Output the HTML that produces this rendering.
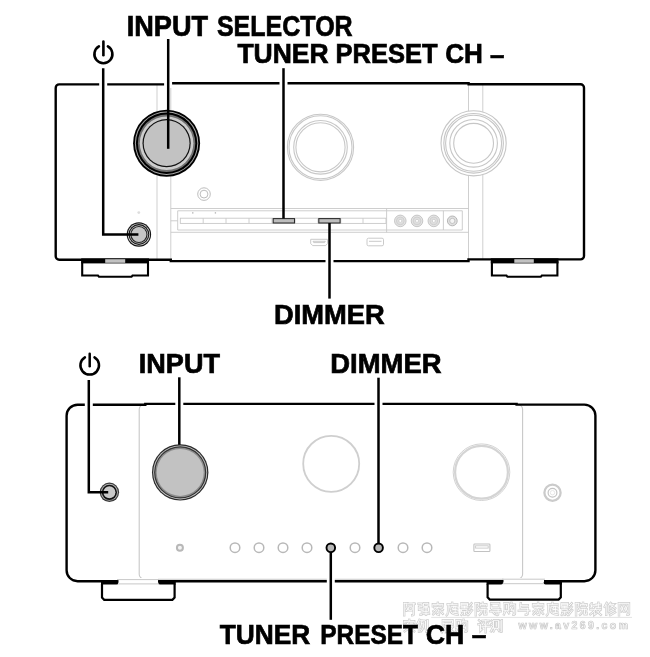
<!DOCTYPE html>
<html><head><meta charset="utf-8">
<style>
html,body{margin:0;padding:0;background:#fff;}
svg{display:block;will-change:transform;}
text{font-family:"Liberation Sans",sans-serif;font-weight:bold;fill:#000;stroke:#000;stroke-width:0.7;}
</style></head>
<body>
<svg width="650" height="657" viewBox="0 0 650 657">
<rect width="650" height="657" fill="#fff"/>

<!-- ============ TOP DEVICE ============ -->
<g id="top">
  <!-- light panel lines -->
  <g stroke="#cfcfcf" stroke-width="1" fill="none">
    <line x1="157" y1="85" x2="157" y2="259"/>
    <line x1="170.8" y1="85" x2="170.8" y2="260"/>
    <line x1="468.5" y1="85" x2="468.5" y2="260"/>
    <line x1="482.8" y1="85" x2="482.8" y2="259"/>
  </g>
  <!-- outline -->
  <path d="M59.2,84.4 H170.8 V83.2 H468.6 V84.3 H580.5 A3.5,3.5 0 0 1 584,87.8 V255.9 A3.5,3.5 0 0 1 580.5,259.4 H468.5 V261.1 H170.8 V259.8 H59.2 A3.5,3.5 0 0 1 55.7,256.3 V87.9 A3.5,3.5 0 0 1 59.2,84.4 Z" fill="none" stroke="#000" stroke-width="2.4"/>
  <!-- display panel -->
  <g stroke="#c8c8c8" stroke-width="0.9" fill="none">
    <line x1="170.8" y1="208.5" x2="468.5" y2="208.5"/>
    <line x1="177.7" y1="210.8" x2="462.3" y2="210.8"/>
    <line x1="177.7" y1="230" x2="462.3" y2="230"/>
    <line x1="170.8" y1="232.3" x2="468.5" y2="232.3"/>
    <line x1="177.7" y1="210.8" x2="177.7" y2="230"/>
    <line x1="462.3" y1="210.8" x2="462.3" y2="230"/>
    <line x1="170.8" y1="220.8" x2="177.7" y2="220.8"/>
    <line x1="386.6" y1="208.5" x2="386.6" y2="232.3"/>
    <line x1="443.4" y1="210.8" x2="443.4" y2="230"/>
    <rect x="180.3" y="218.2" width="205.7" height="5.2"/>
    <line x1="203.2" y1="218.2" x2="203.2" y2="223.4"/>
    <line x1="226" y1="218.2" x2="226" y2="223.4"/>
    <line x1="249" y1="218.2" x2="249" y2="223.4"/>
    <line x1="272" y1="218.2" x2="272" y2="223.4"/>
    <line x1="295" y1="218.2" x2="295" y2="223.4"/>
    <line x1="318" y1="218.2" x2="318" y2="223.4"/>
    <line x1="340.8" y1="218.2" x2="340.8" y2="223.4"/>
    <line x1="363" y1="218.2" x2="363" y2="223.4"/>
  </g>
  <g fill="#bbb">
    <circle cx="192.8" cy="212.9" r="0.8"/>
    <circle cx="215.4" cy="212.9" r="0.8"/>
    <circle cx="138.8" cy="212.6" r="1.4" fill="#ddd"/>
  </g>
  <!-- highlighted buttons -->
  <rect x="273.2" y="218.6" width="21.3" height="4.4" fill="#bdbdbd" stroke="#2a2a2a" stroke-width="1.05"/>
  <rect x="318.8" y="218.6" width="21.3" height="4.4" fill="#bdbdbd" stroke="#2a2a2a" stroke-width="1.05"/>
  <!-- RCA rings -->
  <g>
    <circle cx="400.3" cy="220.9" r="5.8" fill="#e4e4e4" stroke="#bdbdbd" stroke-width="0.8"/>
    <circle cx="400.3" cy="220.9" r="3.9" fill="#dedede" stroke="#c8c8c8" stroke-width="0.7"/>
    <circle cx="400.3" cy="220.9" r="1.5" fill="#fff" stroke="#bbb" stroke-width="0.5"/>
    <circle cx="417" cy="220.9" r="5.8" fill="#e4e4e4" stroke="#bdbdbd" stroke-width="0.8"/>
    <circle cx="417" cy="220.9" r="3.9" fill="#dedede" stroke="#c8c8c8" stroke-width="0.7"/>
    <circle cx="417" cy="220.9" r="1.5" fill="#fff" stroke="#bbb" stroke-width="0.5"/>
    <circle cx="433.8" cy="220.9" r="5.8" fill="#e4e4e4" stroke="#bdbdbd" stroke-width="0.8"/>
    <circle cx="433.8" cy="220.9" r="3.9" fill="#dedede" stroke="#c8c8c8" stroke-width="0.7"/>
    <circle cx="433.8" cy="220.9" r="1.5" fill="#fff" stroke="#bbb" stroke-width="0.5"/>
    <circle cx="452.3" cy="220.9" r="4.9" fill="#e0e0e0" stroke="#b0b0b0" stroke-width="0.9"/>
    <circle cx="452.3" cy="220.9" r="2.6" fill="#f4f4f4" stroke="#b8b8b8" stroke-width="0.8"/>
  </g>
  <!-- ports -->
  <g fill="none" stroke="#c4c4c4" stroke-width="0.9">
    <path d="M310.7,239.3 H327.6 V243.5 L325.6,245.6 H312.7 L310.7,243.5 Z"/>
    <path d="M313,241.3 H325.3 L324.6,242.6 H313.7 Z"/>
    <rect x="367" y="238.2" width="16.5" height="7.6" rx="1.5"/>
    <line x1="369" y1="241.3" x2="381.5" y2="241.3"/>
  </g>
  <!-- small jack -->
  <circle cx="204" cy="194.1" r="6.3" fill="none" stroke="#bdbdbd" stroke-width="1"/>
  <circle cx="204" cy="194.1" r="3.9" fill="none" stroke="#bdbdbd" stroke-width="1"/>

  <!-- knob 2 (light) -->
  <g fill="#fff" stroke="#c8c8c8" stroke-width="1.1">
    <circle cx="320.5" cy="147.3" r="33.1"/>
    <circle cx="320.5" cy="147.3" r="31.5"/>
    <circle cx="320.5" cy="147.3" r="26.8"/>
    <circle cx="320.5" cy="147.3" r="24.6"/>
  </g>
  <!-- knob 3 (light) -->
  <g fill="#fff" stroke="#c6c6c6" stroke-width="1.1">
    <circle cx="473.6" cy="143.3" r="32.6"/>
    <circle cx="473.6" cy="143.3" r="29.8"/>
    <circle cx="473.6" cy="143.3" r="28.0"/>
    <circle cx="473.6" cy="143.3" r="23.8"/>
    <circle cx="473.6" cy="143.3" r="19.9"/>
  </g>
  <!-- knob 1 (INPUT SELECTOR) -->
  <g transform="translate(166.6,143.2)">
    <circle r="33.5" fill="#000"/>
    <circle r="31.7" fill="#a8a8a8"/>
    <circle r="30.7" fill="#000"/>
    <circle r="28.7" fill="#707070"/>
    <circle r="26.8" fill="#cdcdcd"/>
    <circle r="24.1" fill="#111"/>
    <circle r="22.9" fill="#c2c2c2"/>
  </g>
  <!-- power button -->
  <g transform="translate(138.9,234.5)">
    <circle r="12.2" fill="#151515"/>
    <circle r="11.1" fill="#d8d8d8"/>
    <circle r="10.4" fill="#151515"/>
    <circle r="9.3" fill="#c4c4c4"/>
    <circle r="8.6" fill="#222"/>
    <circle r="7.5" fill="#c6c6c6"/>
  </g>
  <!-- feet -->
  <g>
    <path d="M82.2,261.2 V275.5 H98 L99,276.8 H131.5 L132.5,275.5 H148 V261.2" fill="none" stroke="#000" stroke-width="2.1"/>
    <rect x="81.2" y="258.4" width="67.8" height="5" fill="#000"/>
    <rect x="105.2" y="259.2" width="20" height="3.6" fill="#c2c2c2"/>
    <path d="M491.9,261.2 V275.5 H506.5 L507.5,276.8 H540.8 L541.8,275.5 H557.4 V261.2" fill="none" stroke="#000" stroke-width="2.1"/>
    <rect x="490.8" y="258.4" width="67.7" height="5" fill="#000"/>
    <rect x="514.3" y="259.2" width="19.5" height="3.6" fill="#c2c2c2"/>
  </g>
</g>

<!-- ============ BOTTOM DEVICE ============ -->
<g id="bottom">
  <!-- inner panel -->
  <rect x="139.2" y="404.4" width="383.4" height="174.8" rx="5" fill="none" stroke="#c8c8c8" stroke-width="1.1"/>
  <!-- outline -->
  <path d="M77.6,404.7 H145.3 V403.9 H516.6 V404.6 H584.4 A11,11 0 0 1 595.4,415.6 V570.2 A11,11 0 0 1 584.4,581.2 H77.6 A11,11 0 0 1 66.6,570.2 V415.7 A11,11 0 0 1 77.6,404.7 Z" fill="none" stroke="#000" stroke-width="2.4"/>
  <!-- knobs light -->
  <circle cx="331.2" cy="463.8" r="28" fill="none" stroke="#cfcfcf" stroke-width="1.8"/>
  <circle cx="481.5" cy="472.2" r="28.3" fill="none" stroke="#cdcdcd" stroke-width="0.9"/>
  <circle cx="481.5" cy="472.2" r="26.4" fill="none" stroke="#d4d4d4" stroke-width="2.2"/>
  <!-- jack -->
  <circle cx="552.5" cy="492.7" r="8.1" fill="none" stroke="#cbcbcb" stroke-width="2.3"/>
  <circle cx="552.5" cy="492.7" r="4.4" fill="none" stroke="#c4c4c4" stroke-width="1.2"/>
  <circle cx="552.5" cy="492.7" r="2.2" fill="none" stroke="#e0e0e0" stroke-width="0.8"/>
  <!-- IR + buttons -->
  <circle cx="179.9" cy="547.8" r="3" fill="#f4f4f4" stroke="#b8b8b8" stroke-width="2"/>
  <g fill="none" stroke="#b8b8b8" stroke-width="1.5">
    <circle cx="235" cy="547.7" r="4.8"/>
    <circle cx="259" cy="547.7" r="4.8"/>
    <circle cx="283" cy="547.7" r="4.8"/>
    <circle cx="307" cy="547.7" r="4.8"/>
    <circle cx="355" cy="547.7" r="4.8"/>
    <circle cx="403" cy="547.7" r="4.8"/>
    <circle cx="427" cy="547.7" r="4.8"/>
  </g>
  <!-- USB -->
  <rect x="473.9" y="544" width="16" height="7.5" rx="0.8" fill="none" stroke="#c2c2c2" stroke-width="1.1"/>
  <rect x="475.6" y="545.8" width="12.6" height="2.3" fill="none" stroke="#c8c8c8" stroke-width="0.9"/>
  <!-- INPUT knob -->
  <g transform="translate(180.2,472.4)">
    <circle r="28.2" fill="#2a2a2a"/>
    <circle r="27.0" fill="#c8c8c8"/>
    <circle r="26.1" fill="#333"/>
    <circle r="24.9" fill="#8c8c8c"/>
    <circle r="23.5" fill="#c2c2c2"/>
  </g>
  <!-- power button -->
  <g transform="translate(109.4,492.3)">
    <circle r="9.7" fill="#3a3a3a"/>
    <circle r="8.5" fill="#b0b0b0"/>
    <circle r="7.6" fill="#111"/>
    <circle r="6.0" fill="#c9c9c9"/>
  </g>
  <!-- feet -->
  <rect x="118.5" y="578" width="39.5" height="7" fill="#fff"/>
  <rect x="503.5" y="578" width="40.5" height="7" fill="#fff"/>
  <g stroke="#c8c8c8" stroke-width="1" fill="none">
    <line x1="117" y1="579.6" x2="159" y2="579.6"/>
    <line x1="117" y1="583.9" x2="159" y2="583.9"/>
    <line x1="502" y1="579.2" x2="545" y2="579.2"/>
    <line x1="502" y1="583.7" x2="545" y2="583.7"/>
  </g>
  <path d="M102,584 V597.6 L104.2,599.8 H172.4 L174.6,597.6 V584" fill="none" stroke="#000" stroke-width="2.2"/>
  <path d="M101,580.2 H116.4 Q118.2,580.2 118.2,582.4 Q118.2,584.6 116.4,584.6 H101 Z" fill="#000"/>
  <path d="M175.8,580.2 H160.2 Q158.4,580.2 158.4,582.4 Q158.4,584.6 160.2,584.6 H175.8 Z" fill="#000"/>
  <path d="M487.6,584 V597.4 L489.8,599.6 H558.6 L560.8,597.4 V584" fill="none" stroke="#000" stroke-width="2.2"/>
  <path d="M486.5,580.4 H501.2 Q503,580.4 503,582.5 Q503,584.6 501.2,584.6 H486.5 Z" fill="#000"/>
  <path d="M562,580.4 H545.5 Q543.7,580.4 543.7,582.5 Q543.7,584.6 545.5,584.6 H562 Z" fill="#000"/>
</g>

<!-- ============ GAPS (white) ============ -->
<g stroke="#fff" stroke-width="8">
  <line x1="103.2" y1="81" x2="103.2" y2="88"/>
  <line x1="168.1" y1="81" x2="168.1" y2="88"/>
  <line x1="283.5" y1="81" x2="283.5" y2="88"/>
  <line x1="329.5" y1="258" x2="329.5" y2="264.5"/>
  <line x1="88.8" y1="401" x2="88.8" y2="408"/>
  <line x1="179.3" y1="401" x2="179.3" y2="408"/>
  <line x1="378.5" y1="401" x2="378.5" y2="408"/>
  <line x1="330.8" y1="578" x2="330.8" y2="585"/>
</g>

<!-- ============ LEADERS ============ -->
<g stroke="#000" stroke-width="2.5" fill="none">
  <path d="M103.2,68.2 V234.5 H138.4"/>
  <line x1="168.2" y1="39" x2="168.2" y2="148.8"/>
  <line x1="283.5" y1="68.2" x2="283.5" y2="218.5"/>
  <line x1="329.5" y1="223" x2="329.5" y2="298.6"/>
  <path d="M88.8,380 V492.3 H108.2"/>
  <line x1="179.3" y1="377.3" x2="179.3" y2="444.8"/>
  <line x1="378.5" y1="377.7" x2="378.5" y2="547"/>
  <line x1="330.8" y1="548" x2="330.8" y2="619.8"/>
</g>

<g fill="#b8b8b8" stroke="#000" stroke-width="1.9">
  <circle cx="330.8" cy="547.8" r="4.3"/>
  <circle cx="378.6" cy="547.8" r="4.3"/>
</g>
<!-- ============ POWER ICONS ============ -->
<g stroke="#000" fill="none" stroke-linecap="round">
  <path d="M98.90,46.41 A9.0,9.0 0 1 0 107.90,46.41" stroke-width="2.6"/>
  <line x1="103.4" y1="41.5" x2="103.4" y2="55.2" stroke-width="2.6"/>
  <path d="M84.91,357.33 A9.3,9.3 0 1 0 94.49,357.33" stroke-width="2.5"/>
  <line x1="89.7" y1="353.7" x2="89.7" y2="366.2" stroke-width="2.5"/>
</g>

<!-- ============ WATERMARK ============ -->
<g fill="none" stroke-linecap="square" stroke-linejoin="miter"><g stroke="#d0d0d0" stroke-width="2.4"><g transform="translate(403.20,602.30)"><path d="M1,1 H4 L3,4 L4.5,6.5 Q4.5,8.5 3,8.5"/><path d="M1,1 V13"/><path d="M5,1.5 H11.5"/><path d="M6,4.5 H9 V8 H6 Z"/><path d="M10.5,1.5 V12.5 Q10.5,13 9,13"/></g><g transform="translate(417.52,602.30)"><path d="M1,1.5 H4.5 V4.5 H1.5 V7.5 H4.5 V11.5 Q4.5,12.5 3,12.5"/><path d="M6.5,1 H10.5 V4 H6.5 Z"/><path d="M6,5.5 H11 V9 H6 Z"/><path d="M8.5,4 V12.5"/><path d="M6,11.5 H11.5"/></g><g transform="translate(431.84,602.30)"><path d="M6,0.5 V2"/><path d="M1,4 V2 H11 V4"/><path d="M2.5,5 H9.5"/><path d="M6,5 Q4,8 1.5,9"/><path d="M6,6.5 Q8,10 7,12.5 L5.5,12"/><path d="M5,8 Q3,11 1.5,12"/><path d="M8,8 L11,11.5"/><path d="M9,6.5 L11,7.5"/></g><g transform="translate(446.16,602.30)"><path d="M6,0.5 V2"/><path d="M1.5,2 H11"/><path d="M2,2 V8 Q2,12 0.5,13"/><path d="M5,4 H8 L6,7 H9"/><path d="M4,7.5 Q4,12 11.5,12.5"/><path d="M7.5,4 H11"/><path d="M9,4 V10"/><path d="M7,7 H11"/><path d="M7,10 H11"/></g><g transform="translate(460.48,602.30)"><path d="M1,1 H7 V4 H1 Z"/><path d="M1,2.5 H7"/><path d="M0.5,5.5 H7.5"/><path d="M4,4 V5.5"/><path d="M1.5,7 H6.5 V9.5 H1.5 Z"/><path d="M4,9.5 V12.5"/><path d="M2,11 L1,12.5"/><path d="M6,11 L7,12.5"/><path d="M11,1 L8.5,3.5"/><path d="M11,4.5 L8.5,7.5"/><path d="M11.5,8 L8,12.5"/></g><g transform="translate(474.80,602.30)"><path d="M1,1 H4 L3,4 L4.5,6.5 Q4.5,8.5 3,8.5"/><path d="M1,1 V13"/><path d="M8,0.5 V1.8"/><path d="M5.5,3.5 V2 H11.5 V3.5"/><path d="M6.5,5 H10.5"/><path d="M5.5,7 H11.5"/><path d="M7.5,7 Q7.5,11 5,12.5"/><path d="M9.5,7 V12 H11.5 V10.5"/></g><g transform="translate(489.12,602.30)"><path d="M2,1 H10 V5.5 H2 V3.5"/><path d="M2,5.5 Q2,7 4,7 H11"/><path d="M1,9 H11.5"/><path d="M9,7.5 V12 Q9,13 7.5,12.5"/><path d="M4,10 L5.5,11.5"/></g><g transform="translate(503.44,602.30)"><path d="M1,1 H5 V8.5 H1 Z"/><path d="M3,3 V6"/><path d="M2,8.5 L0.5,12"/><path d="M4,8.5 L5.5,11"/><path d="M8,0.5 Q7.5,3 6,4"/><path d="M7.5,2.5 H11.5 V11 Q11.5,12.5 10,12.5"/><path d="M9,5 L7.5,8.5 H10"/><path d="M9.5,7 L10,9"/></g><g transform="translate(517.76,602.30)"><path d="M3,1 V6 H10"/><path d="M3,3 H10"/><path d="M1,8.5 H11.5"/><path d="M10,6 V11 Q10,12.5 8,12.5"/></g><g transform="translate(532.08,602.30)"><path d="M6,0.5 V2"/><path d="M1,4 V2 H11 V4"/><path d="M2.5,5 H9.5"/><path d="M6,5 Q4,8 1.5,9"/><path d="M6,6.5 Q8,10 7,12.5 L5.5,12"/><path d="M5,8 Q3,11 1.5,12"/><path d="M8,8 L11,11.5"/><path d="M9,6.5 L11,7.5"/></g><g transform="translate(546.40,602.30)"><path d="M6,0.5 V2"/><path d="M1.5,2 H11"/><path d="M2,2 V8 Q2,12 0.5,13"/><path d="M5,4 H8 L6,7 H9"/><path d="M4,7.5 Q4,12 11.5,12.5"/><path d="M7.5,4 H11"/><path d="M9,4 V10"/><path d="M7,7 H11"/><path d="M7,10 H11"/></g><g transform="translate(560.72,602.30)"><path d="M1,1 H7 V4 H1 Z"/><path d="M1,2.5 H7"/><path d="M0.5,5.5 H7.5"/><path d="M4,4 V5.5"/><path d="M1.5,7 H6.5 V9.5 H1.5 Z"/><path d="M4,9.5 V12.5"/><path d="M2,11 L1,12.5"/><path d="M6,11 L7,12.5"/><path d="M11,1 L8.5,3.5"/><path d="M11,4.5 L8.5,7.5"/><path d="M11.5,8 L8,12.5"/></g><g transform="translate(575.04,602.30)"><path d="M1,1 H4 L3,4 L4.5,6.5 Q4.5,8.5 3,8.5"/><path d="M1,1 V13"/><path d="M8,0.5 V1.8"/><path d="M5.5,3.5 V2 H11.5 V3.5"/><path d="M6.5,5 H10.5"/><path d="M5.5,7 H11.5"/><path d="M7.5,7 Q7.5,11 5,12.5"/><path d="M9.5,7 V12 H11.5 V10.5"/></g><g transform="translate(589.36,602.30)"><path d="M2.5,1 V5.5"/><path d="M1,2.5 L2.5,3.5"/><path d="M1,5 L2.5,4"/><path d="M4,3 H7.5"/><path d="M9,0.5 V5.5"/><path d="M6.5,2.5 H11.5"/><path d="M6.5,5 H11.5"/><path d="M1,7 H11.5"/><path d="M6,6 V7"/><path d="M6,7 Q4,10 1,12"/><path d="M5,9.5 V12.5 L7,11"/><path d="M7,8.5 L11.5,12.5"/><path d="M10.5,8 L9,9.5"/></g><g transform="translate(603.68,602.30)"><path d="M3,0.5 L1,4.5"/><path d="M2.5,3 V12.5"/><path d="M4.5,3.5 V9"/><path d="M7,0.5 L5.5,3"/><path d="M6,2 H10.5 L6,6.5"/><path d="M7,3 L11.5,6"/><path d="M10,7 L6,9"/><path d="M10.5,8.5 L6,11"/><path d="M11.5,10 L6.5,12.8"/></g><g transform="translate(618.00,602.30)"><path d="M1,1 H11 V11.5 Q11,12.5 9.5,12.5"/><path d="M1,1 V13"/><path d="M3,3.5 L5.5,9"/><path d="M5.5,3.5 L3,9"/><path d="M7,3.5 L9.5,9"/><path d="M9.5,3.5 L7,9"/></g><g transform="translate(403.20,619.30)"><path d="M6,0.5 V1.5"/><path d="M1,3.5 V2 H11 V3.5"/><path d="M5,3.5 Q4,6 2,7"/><path d="M1,5.5 H11"/><path d="M4,4 Q7,6.5 9,6.5"/><path d="M1,8.5 H11"/><path d="M6,7 V13"/><path d="M5.5,9 L1.5,12"/><path d="M6.5,9 L11,12"/></g><g transform="translate(416.50,619.30)"><path d="M3,0.5 L1,4.5"/><path d="M2.5,3 V12.5"/><path d="M4,1.5 H8"/><path d="M5.5,1.5 Q5,6 4,8"/><path d="M5,4.5 H7.5 Q7.5,9 4.5,12"/><path d="M9,2 V9"/><path d="M11,1 V12 Q11,12.8 10,12.5"/></g><g transform="translate(441.50,619.30)"><path d="M1.5,1 H11 V4 H1.5"/><path d="M1.5,1 V9 Q1.5,12 0.5,13"/><path d="M4,5.5 H11"/><path d="M3.5,7.5 H11.5"/><path d="M5.5,4.5 V7.5"/><path d="M8.5,4.5 V7.5"/><path d="M4.5,7.5 V12.5 L7,11"/><path d="M7.5,8.5 L11.5,12.5"/><path d="M10.5,8.5 L9,10"/></g><g transform="translate(455.50,619.30)"><path d="M1,1 H5 V8.5 H1 Z"/><path d="M3,3 V6"/><path d="M2,8.5 L0.5,12"/><path d="M4,8.5 L5.5,11"/><path d="M8,0.5 Q7.5,3 6,4"/><path d="M7.5,2.5 H11.5 V11 Q11.5,12.5 10,12.5"/><path d="M9,5 L7.5,8.5 H10"/><path d="M9.5,7 L10,9"/></g><g transform="translate(477.50,619.30)"><path d="M1.5,1 L3,2.5"/><path d="M1,5 H3 V11.5 L4.5,10"/><path d="M5,1.5 H11.5"/><path d="M6,3.5 L7,5.5"/><path d="M10.5,3.5 L9.5,5.5"/><path d="M4.5,7 H12"/><path d="M8.2,1.5 V13"/></g><g transform="translate(490.50,619.30)"><path d="M1,1.5 L2.5,3"/><path d="M0.5,5 L2,6"/><path d="M0.5,12 L2.5,8"/><path d="M3.5,1 H8 V9 H3.5 Z"/><path d="M5.8,3 V7"/><path d="M4.5,9 L3,12"/><path d="M7,9 L8.5,11.5"/><path d="M9.5,2 V9"/><path d="M11.3,1 V12 Q11.3,12.8 10.3,12.5"/></g></g><g stroke="#fff" stroke-width="0.9"><g transform="translate(403.20,602.30)"><path d="M1,1 H4 L3,4 L4.5,6.5 Q4.5,8.5 3,8.5"/><path d="M1,1 V13"/><path d="M5,1.5 H11.5"/><path d="M6,4.5 H9 V8 H6 Z"/><path d="M10.5,1.5 V12.5 Q10.5,13 9,13"/></g><g transform="translate(417.52,602.30)"><path d="M1,1.5 H4.5 V4.5 H1.5 V7.5 H4.5 V11.5 Q4.5,12.5 3,12.5"/><path d="M6.5,1 H10.5 V4 H6.5 Z"/><path d="M6,5.5 H11 V9 H6 Z"/><path d="M8.5,4 V12.5"/><path d="M6,11.5 H11.5"/></g><g transform="translate(431.84,602.30)"><path d="M6,0.5 V2"/><path d="M1,4 V2 H11 V4"/><path d="M2.5,5 H9.5"/><path d="M6,5 Q4,8 1.5,9"/><path d="M6,6.5 Q8,10 7,12.5 L5.5,12"/><path d="M5,8 Q3,11 1.5,12"/><path d="M8,8 L11,11.5"/><path d="M9,6.5 L11,7.5"/></g><g transform="translate(446.16,602.30)"><path d="M6,0.5 V2"/><path d="M1.5,2 H11"/><path d="M2,2 V8 Q2,12 0.5,13"/><path d="M5,4 H8 L6,7 H9"/><path d="M4,7.5 Q4,12 11.5,12.5"/><path d="M7.5,4 H11"/><path d="M9,4 V10"/><path d="M7,7 H11"/><path d="M7,10 H11"/></g><g transform="translate(460.48,602.30)"><path d="M1,1 H7 V4 H1 Z"/><path d="M1,2.5 H7"/><path d="M0.5,5.5 H7.5"/><path d="M4,4 V5.5"/><path d="M1.5,7 H6.5 V9.5 H1.5 Z"/><path d="M4,9.5 V12.5"/><path d="M2,11 L1,12.5"/><path d="M6,11 L7,12.5"/><path d="M11,1 L8.5,3.5"/><path d="M11,4.5 L8.5,7.5"/><path d="M11.5,8 L8,12.5"/></g><g transform="translate(474.80,602.30)"><path d="M1,1 H4 L3,4 L4.5,6.5 Q4.5,8.5 3,8.5"/><path d="M1,1 V13"/><path d="M8,0.5 V1.8"/><path d="M5.5,3.5 V2 H11.5 V3.5"/><path d="M6.5,5 H10.5"/><path d="M5.5,7 H11.5"/><path d="M7.5,7 Q7.5,11 5,12.5"/><path d="M9.5,7 V12 H11.5 V10.5"/></g><g transform="translate(489.12,602.30)"><path d="M2,1 H10 V5.5 H2 V3.5"/><path d="M2,5.5 Q2,7 4,7 H11"/><path d="M1,9 H11.5"/><path d="M9,7.5 V12 Q9,13 7.5,12.5"/><path d="M4,10 L5.5,11.5"/></g><g transform="translate(503.44,602.30)"><path d="M1,1 H5 V8.5 H1 Z"/><path d="M3,3 V6"/><path d="M2,8.5 L0.5,12"/><path d="M4,8.5 L5.5,11"/><path d="M8,0.5 Q7.5,3 6,4"/><path d="M7.5,2.5 H11.5 V11 Q11.5,12.5 10,12.5"/><path d="M9,5 L7.5,8.5 H10"/><path d="M9.5,7 L10,9"/></g><g transform="translate(517.76,602.30)"><path d="M3,1 V6 H10"/><path d="M3,3 H10"/><path d="M1,8.5 H11.5"/><path d="M10,6 V11 Q10,12.5 8,12.5"/></g><g transform="translate(532.08,602.30)"><path d="M6,0.5 V2"/><path d="M1,4 V2 H11 V4"/><path d="M2.5,5 H9.5"/><path d="M6,5 Q4,8 1.5,9"/><path d="M6,6.5 Q8,10 7,12.5 L5.5,12"/><path d="M5,8 Q3,11 1.5,12"/><path d="M8,8 L11,11.5"/><path d="M9,6.5 L11,7.5"/></g><g transform="translate(546.40,602.30)"><path d="M6,0.5 V2"/><path d="M1.5,2 H11"/><path d="M2,2 V8 Q2,12 0.5,13"/><path d="M5,4 H8 L6,7 H9"/><path d="M4,7.5 Q4,12 11.5,12.5"/><path d="M7.5,4 H11"/><path d="M9,4 V10"/><path d="M7,7 H11"/><path d="M7,10 H11"/></g><g transform="translate(560.72,602.30)"><path d="M1,1 H7 V4 H1 Z"/><path d="M1,2.5 H7"/><path d="M0.5,5.5 H7.5"/><path d="M4,4 V5.5"/><path d="M1.5,7 H6.5 V9.5 H1.5 Z"/><path d="M4,9.5 V12.5"/><path d="M2,11 L1,12.5"/><path d="M6,11 L7,12.5"/><path d="M11,1 L8.5,3.5"/><path d="M11,4.5 L8.5,7.5"/><path d="M11.5,8 L8,12.5"/></g><g transform="translate(575.04,602.30)"><path d="M1,1 H4 L3,4 L4.5,6.5 Q4.5,8.5 3,8.5"/><path d="M1,1 V13"/><path d="M8,0.5 V1.8"/><path d="M5.5,3.5 V2 H11.5 V3.5"/><path d="M6.5,5 H10.5"/><path d="M5.5,7 H11.5"/><path d="M7.5,7 Q7.5,11 5,12.5"/><path d="M9.5,7 V12 H11.5 V10.5"/></g><g transform="translate(589.36,602.30)"><path d="M2.5,1 V5.5"/><path d="M1,2.5 L2.5,3.5"/><path d="M1,5 L2.5,4"/><path d="M4,3 H7.5"/><path d="M9,0.5 V5.5"/><path d="M6.5,2.5 H11.5"/><path d="M6.5,5 H11.5"/><path d="M1,7 H11.5"/><path d="M6,6 V7"/><path d="M6,7 Q4,10 1,12"/><path d="M5,9.5 V12.5 L7,11"/><path d="M7,8.5 L11.5,12.5"/><path d="M10.5,8 L9,9.5"/></g><g transform="translate(603.68,602.30)"><path d="M3,0.5 L1,4.5"/><path d="M2.5,3 V12.5"/><path d="M4.5,3.5 V9"/><path d="M7,0.5 L5.5,3"/><path d="M6,2 H10.5 L6,6.5"/><path d="M7,3 L11.5,6"/><path d="M10,7 L6,9"/><path d="M10.5,8.5 L6,11"/><path d="M11.5,10 L6.5,12.8"/></g><g transform="translate(618.00,602.30)"><path d="M1,1 H11 V11.5 Q11,12.5 9.5,12.5"/><path d="M1,1 V13"/><path d="M3,3.5 L5.5,9"/><path d="M5.5,3.5 L3,9"/><path d="M7,3.5 L9.5,9"/><path d="M9.5,3.5 L7,9"/></g><g transform="translate(403.20,619.30)"><path d="M6,0.5 V1.5"/><path d="M1,3.5 V2 H11 V3.5"/><path d="M5,3.5 Q4,6 2,7"/><path d="M1,5.5 H11"/><path d="M4,4 Q7,6.5 9,6.5"/><path d="M1,8.5 H11"/><path d="M6,7 V13"/><path d="M5.5,9 L1.5,12"/><path d="M6.5,9 L11,12"/></g><g transform="translate(416.50,619.30)"><path d="M3,0.5 L1,4.5"/><path d="M2.5,3 V12.5"/><path d="M4,1.5 H8"/><path d="M5.5,1.5 Q5,6 4,8"/><path d="M5,4.5 H7.5 Q7.5,9 4.5,12"/><path d="M9,2 V9"/><path d="M11,1 V12 Q11,12.8 10,12.5"/></g><g transform="translate(441.50,619.30)"><path d="M1.5,1 H11 V4 H1.5"/><path d="M1.5,1 V9 Q1.5,12 0.5,13"/><path d="M4,5.5 H11"/><path d="M3.5,7.5 H11.5"/><path d="M5.5,4.5 V7.5"/><path d="M8.5,4.5 V7.5"/><path d="M4.5,7.5 V12.5 L7,11"/><path d="M7.5,8.5 L11.5,12.5"/><path d="M10.5,8.5 L9,10"/></g><g transform="translate(455.50,619.30)"><path d="M1,1 H5 V8.5 H1 Z"/><path d="M3,3 V6"/><path d="M2,8.5 L0.5,12"/><path d="M4,8.5 L5.5,11"/><path d="M8,0.5 Q7.5,3 6,4"/><path d="M7.5,2.5 H11.5 V11 Q11.5,12.5 10,12.5"/><path d="M9,5 L7.5,8.5 H10"/><path d="M9.5,7 L10,9"/></g><g transform="translate(477.50,619.30)"><path d="M1.5,1 L3,2.5"/><path d="M1,5 H3 V11.5 L4.5,10"/><path d="M5,1.5 H11.5"/><path d="M6,3.5 L7,5.5"/><path d="M10.5,3.5 L9.5,5.5"/><path d="M4.5,7 H12"/><path d="M8.2,1.5 V13"/></g><g transform="translate(490.50,619.30)"><path d="M1,1.5 L2.5,3"/><path d="M0.5,5 L2,6"/><path d="M0.5,12 L2.5,8"/><path d="M3.5,1 H8 V9 H3.5 Z"/><path d="M5.8,3 V7"/><path d="M4.5,9 L3,12"/><path d="M7,9 L8.5,11.5"/><path d="M9.5,2 V9"/><path d="M11.3,1 V12 Q11.3,12.8 10.3,12.5"/></g></g></g>
<line x1="431.2" y1="617.4" x2="632" y2="617.4" stroke="#dcdcdc" stroke-width="0.8"/><text x="518.5" y="628.6" font-size="10.5" textLength="109.5" lengthAdjust="spacing" style="font-family:'Liberation Sans',sans-serif;font-weight:bold;fill:#fff;stroke:#c8c8c8;stroke-width:0.7">www.av269.com</text>
<!-- ============ LABELS ============ -->
<text x="126.74" y="35.9" font-size="29.3" textLength="81.30" lengthAdjust="spacingAndGlyphs">INPUT</text>
<text x="216.93" y="35.9" font-size="29.3" textLength="135.73" lengthAdjust="spacingAndGlyphs">SELECTOR</text>
<text x="237.45" y="62.6" font-size="27.5" textLength="91.24" lengthAdjust="spacingAndGlyphs">TUNER</text>
<text x="335.54" y="62.6" font-size="27.5" textLength="101.98" lengthAdjust="spacingAndGlyphs">PRESET</text>
<text x="445.28" y="62.6" font-size="27.5" textLength="37.73" lengthAdjust="spacingAndGlyphs">CH</text>
<text x="490.07" y="64.0" font-size="27.5" textLength="14.38" lengthAdjust="spacingAndGlyphs">–</text>
<text x="274.02" y="323.6" font-size="28" textLength="110.69" lengthAdjust="spacingAndGlyphs">DIMMER</text>
<text x="138.84" y="373.0" font-size="28" textLength="81.10" lengthAdjust="spacingAndGlyphs">INPUT</text>
<text x="330.32" y="373.2" font-size="27.5" textLength="111.20" lengthAdjust="spacingAndGlyphs">DIMMER</text>
<text x="219.65" y="643.8" font-size="28" textLength="90.53" lengthAdjust="spacingAndGlyphs">TUNER</text>
<text x="320.22" y="643.8" font-size="28" textLength="97.70" lengthAdjust="spacingAndGlyphs">PRESET</text>
<text x="425.75" y="643.8" font-size="28" textLength="38.60" lengthAdjust="spacingAndGlyphs">CH</text>
<text x="471.86" y="644.4" font-size="28" textLength="14.60" lengthAdjust="spacingAndGlyphs">–</text>
</svg>
</body></html>
